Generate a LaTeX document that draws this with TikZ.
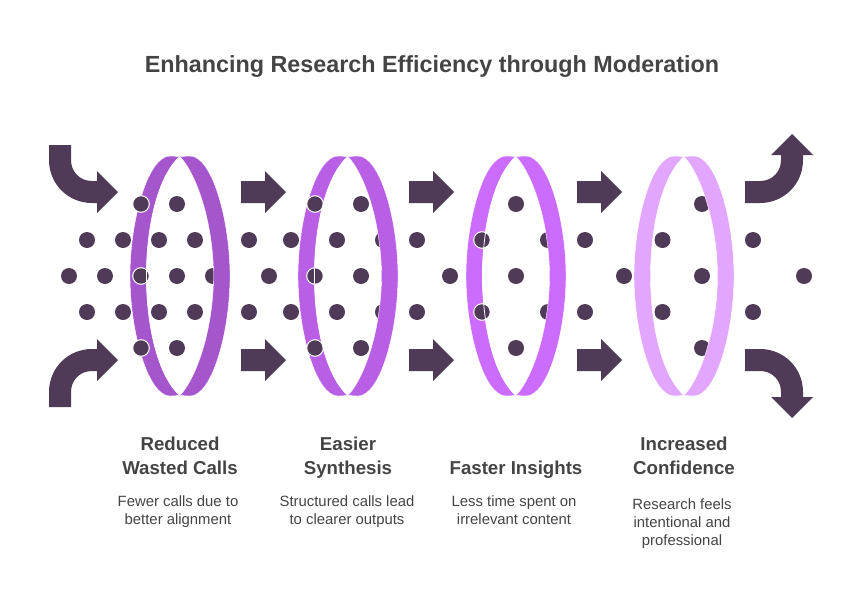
\documentclass[tikz,border=0pt]{standalone}
\usepackage{fontspec}
\setmainfont{Liberation Sans}
\usetikzlibrary{positioning}
\definecolor{plum}{HTML}{4F3B57}
\definecolor{inktext}{HTML}{444444}
\definecolor{bandA}{HTML}{A556CC}
\definecolor{bandB}{HTML}{B85FE6}
\definecolor{bandC}{HTML}{CB6CFF}
\definecolor{bandD}{HTML}{E2A6FF}
\newcommand{\innercurve}{(0,-119.5) .. controls (-22,-100) and (-33.5,-50) .. (-33.5,0) .. controls (-33.5,50) and (-22,100) .. (0,119.5)}
\newcommand{\halfband}[1]{(0,-119.5) -- (-10,-120) .. controls (-32,-120) and (-50,-56) .. (-50,0) .. controls (-50,56) and (-32,120) .. (-10,120) -- (0,119.5) .. controls (#1,100) and (-33.5,50) .. (-33.5,0) .. controls (-33.5,-50) and (#1,-100) .. (0,-119.5) -- cycle}
\tikzset{
  headtext/.style={font=\fontsize{14pt}{18pt}\selectfont\bfseries, text=inktext, align=center, inner sep=0pt, execute at end node=\strut},
  subtext/.style={font=\fontsize{11.15pt}{13.5pt}\selectfont, text=inktext, align=center, inner sep=0pt},
  bandline/.style={draw=white, line width=.3pt},
}
\begin{document}
\begin{tikzpicture}[x=.75pt, y=-.75pt, line join=miter]
\useasboundingbox (0,0) rectangle (864,600);
\node[font=\fontsize{17.5pt}{22pt}\selectfont\bfseries, text=inktext, inner sep=0pt] (title) at (432,67) {Enhancing Research Efficiency through Moderation};
% dots behind the rings
\foreach \y/\xlist in {204/{141,177,361,516,702}, 240/{87,123,159,195,249,291,337,383,417,482,548,585,662.5,753}, 276/{69,105,141,177,213,269,315,361,450,516,624,702,804}, 312/{87,123,159,195,249,291,337,383,417,482,548,585,662.5,753}, 348/{141,177,361,516,702}}
\foreach \x in \xlist
\fill[plum] (\x,\y) circle (8);
% rings
\foreach \c/\col in {180/bandA,348/bandB,516/bandC,684/bandD} {
\begin{scope}[shift={(\c,276)}]
\fill[\col, bandline] \halfband{-22};
\begin{scope}[xscale=-1]
\fill[\col, bandline] \halfband{-18};
\end{scope}
\end{scope}
}
% dots over the rings
\foreach \x/\y in {141/204,141/276,141/348,315/204,315/276,315/348,482/240,482/312}
\filldraw[plum, draw=white, line width=.75pt] (\x,\y) circle (8.3);
\foreach \c in {180,348,516} {
\begin{scope}[shift={(\c,276)}]
\draw[white, line width=.6pt] \innercurve;
\end{scope}
}
% straight arrows
\foreach \x in {241,409,577}
\foreach \y in {192,360}
\fill[plum] (\x,\y-11)--(\x+24,\y-11)--(\x+24,\y-21)--(\x+45,\y)--(\x+24,\y+21)--(\x+24,\y+11)--(\x,\y+11)--cycle;
% curved arrows
\fill[plum] (49,145)--(71,145)--(71,160) .. controls (71,172) and (80,181) .. (92,181)--(97,181)--(97,171)--(118,192)--(97,213)--(97,203)--(92,203) .. controls (68,203) and (49,184) .. (49,160)--cycle;
\fill[plum] (49,407)--(71,407)--(71,392) .. controls (71,380) and (80,371) .. (92,371)--(97,371)--(97,381)--(118,360)--(97,339)--(97,349)--(92,349) .. controls (68,349) and (49,368) .. (49,392)--cycle;
\fill[plum] (745,181)--(760,181) .. controls (772,181) and (781,172) .. (781,160)--(781,155)--(771,155)--(792,134)--(813,155)--(803,155)--(803,160) .. controls (803,184) and (784,203) .. (760,203)--(745,203)--cycle;
\fill[plum] (745,371)--(760,371) .. controls (772,371) and (781,380) .. (781,392)--(781,397)--(771,397)--(792,418)--(813,397)--(803,397)--(803,392) .. controls (803,368) and (784,349) .. (760,349)--(745,349)--cycle;
% labels
\node[headtext, anchor=south] (reduced) at (180,482) {Reduced\\Wasted Calls};
\node[headtext, anchor=south] (easier) at (348,482) {Easier\\Synthesis};
\node[headtext, anchor=south] (faster) at (516,482) {Faster Insights};
\node[headtext, anchor=south] (increased) at (684,482) {Increased\\Confidence};
\node[subtext, below=10pt of reduced, xshift=-1.5pt] (reducedsub) {Fewer calls due to\\better alignment};
\node[subtext, below=10pt of easier, xshift=-.75pt] (easiersub) {Structured calls lead\\to clearer outputs};
\node[subtext, below=10pt of faster, xshift=-1.5pt] (fastersub) {Less time spent on\\irrelevant content};
\node[subtext, below=12.25pt of increased, xshift=-1.5pt] (increasedsub) {Research feels\\intentional and\\professional};
\end{tikzpicture}
\end{document}
